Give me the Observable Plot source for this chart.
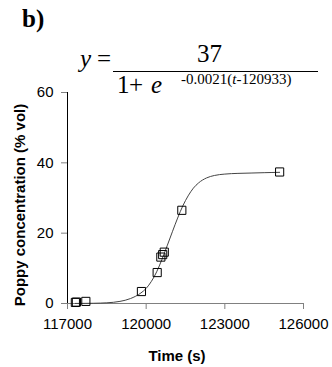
<!DOCTYPE html>
<html><head><meta charset="utf-8">
<script src="https://cdn.jsdelivr.net/npm/d3@7"></script>
<script src="https://cdn.jsdelivr.net/npm/@observablehq/plot@0.6"></script>
<style>
body{margin:0;background:#fff}
#wrap{width:332px;height:367px;overflow:hidden}
</style></head><body><div id="wrap"></div>
<script>
const panelLabel = "b)";
const numeratorText = "37";
const denomOne = "1";
const denomPlus = "+";
const denomE = "e";
const expPre = "-0.0021(";
const expVar = "t";
const expPost = "-120933)";
const xTitle = "Time (s)";
const yTitle = "Poppy concentration (% vol)";
const xTicks = [117000, 120000, 123000, 126000];
const yTicks = [0, 20, 40, 60];

const obsTime = [117300, 117340, 117700, 119820, 120420, 120560, 120630, 120690, 121360, 125090];
const obsConc = [0.3, 0.4, 0.6, 3.4, 8.8, 13.2, 13.9, 14.6, 26.5, 37.4];

// fitted curve
const fitTime = [117300,117700,118000,118500,119000,119400,119800,120000,120200,120400,120600,120800,121000,121200,121400,121600,121800,122000,122300,122600,123000,123500,124000,124500,125090];
const fitConc = [0.02,0.04,0.07,0.2,0.6,1.4,3.0,4.3,6.3,9.0,12.5,16.4,20.4,24.3,27.8,30.6,32.8,34.3,35.7,36.4,36.8,37.0,37.1,37.2,37.3];

const obs = obsTime.map((t, i) => ({t, c: obsConc[i]}));
const fit = fitTime.map((t, i) => ({t, c: fitConc[i]}));

const fmt = d3.format("d");
const chart = Plot.plot({
  width: 332, height: 367,
  marginLeft: 67, marginRight: 29, marginTop: 92, marginBottom: 64,
  style: {fontFamily: "'Liberation Sans', Arial, sans-serif", fontSize: "15px", background: "#fff", color: "black"},
  x: {domain: [117000, 126000]},
  y: {domain: [0, 60]},
  marks: [
    Plot.axisX({ticks: xTicks, tickFormat: fmt, tickSize: 6, tickPadding: 9, stroke: "#808080", label: null}),
    Plot.axisY({ticks: yTicks, tickSize: 6, tickPadding: 8, stroke: "#808080", label: null}),
    Plot.ruleY([0], {x1: 117000, x2: 126000, stroke: "#808080"}),
    Plot.ruleX([117000], {y1: 0, y2: 60, stroke: "black"}),
    Plot.line(fit, {x: "t", y: "c", stroke: "#444", strokeWidth: 1, curve: "monotone-x"}),
    Plot.dot(obs, {x: "t", y: "c", symbol: "square", r: 4.6, stroke: "black", strokeWidth: 1, fill: "none"})
  ]
});
document.getElementById("wrap").appendChild(chart);

const svg = d3.select(chart);
const serif = "'Liberation Serif', 'Times New Roman', serif";
const sans = "'Liberation Sans', Arial, sans-serif";
const txt = (x, y, s, size, opts = {}) => {
  const el = svg.append("text").attr("x", x).attr("y", y).attr("text-anchor", opts.anchor || "start")
    .attr("font-family", opts.family || serif).attr("font-size", size).attr("fill", "black");
  if (opts.bold) el.attr("font-weight", "bold");
  if (opts.italic) el.attr("font-style", "italic");
  el.text(s);
  return el;
};
txt(22, 27, panelLabel, 25, {bold: true});
txt(80, 67, "y", 25, {italic: true});
txt(97, 67, "=", 25);
txt(197, 62, numeratorText, 25);
svg.append("line").attr("x1", 113).attr("x2", 318).attr("y1", 71.5).attr("y2", 71.5).attr("stroke", "black").attr("stroke-width", 1);
txt(117, 93, denomOne, 25);
txt(129, 93, denomPlus, 25);
txt(151, 93, denomE, 25, {italic: true});
const ex = svg.append("text").attr("x", 181).attr("y", 84).attr("text-anchor", "start")
  .attr("font-family", serif).attr("font-size", 15).attr("fill", "black");
ex.append("tspan").text(expPre);
ex.append("tspan").attr("font-style", "italic").text(expVar);
ex.append("tspan").text(expPost);

txt(177, 361, xTitle, 15, {family: sans, bold: true, anchor: "middle"});
svg.append("text").attr("transform", "translate(25,205) rotate(-90)").attr("text-anchor", "middle")
  .attr("font-family", sans).attr("font-weight", "bold").attr("font-size", 15).attr("fill", "black").text(yTitle);
</script></body></html>
